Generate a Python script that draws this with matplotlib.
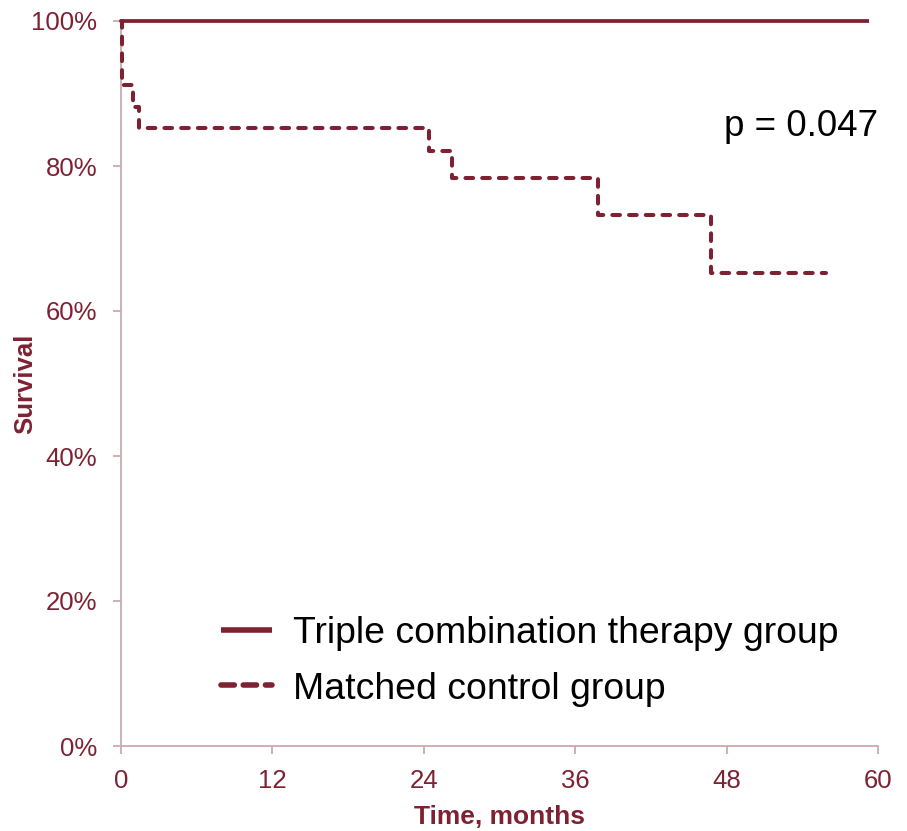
import matplotlib
matplotlib.use("Agg")
import matplotlib.pyplot as plt
from matplotlib.ticker import FuncFormatter

plt.rcParams['font.family'] = ['Liberation Sans', 'DejaVu Sans']

# Kaplan-Meier survival estimates (months, % surviving)
treated_times = [0, 59.3]
treated_surv = [100, 100]
control_times = [0, 0.1, 0.95, 1.4, 24.4, 26.2, 37.8, 46.8, 55.9]
control_surv = [100, 91.2, 88.2, 85.3, 82.1, 78.3, 73.2, 65.2, 65.2]
x_ticks = [0, 12, 24, 36, 48, 60]
y_ticks = [0, 20, 40, 60, 80, 100]
series_labels = ["Triple combination therapy group", "Matched control group"]
p_text = "p = 0.047"

maroon = "#7E2233"
axis_grey = "#C9AAAE"

fig = plt.figure(figsize=(9.07, 8.31), dpi=100)
ax = fig.add_axes([121 / 907, 1 - 746 / 831, 757 / 907, 725 / 831])

ax.plot(treated_times, treated_surv, color=maroon, lw=2.7, solid_capstyle='butt',
        clip_on=False, label=series_labels[0], zorder=3)
ax.plot(control_times, control_surv, color=maroon, lw=2.9, drawstyle='steps-post',
        dashes=(1.9, 2.25), dash_capstyle='round', clip_on=False,
        label=series_labels[1], zorder=3)

ax.set_xlim(0, 60)
ax.set_ylim(0, 100)
ax.set_xticks(x_ticks)
ax.set_yticks(y_ticks)
ax.yaxis.set_major_formatter(FuncFormatter(lambda v, _: f"{v:.0f}%"))

for side in ("top", "right"):
    ax.spines[side].set_visible(False)
for side in ("left", "bottom"):
    ax.spines[side].set_color(axis_grey)
    ax.spines[side].set_linewidth(1.3)

ax.tick_params(axis='both', direction='out', length=6, width=1.3, color=axis_grey,
               labelcolor=maroon, labelsize=18.5)
ax.tick_params(axis='x', pad=10.5)
ax.tick_params(axis='y', pad=11)

ax.set_xlabel("Time, months", fontsize=19, fontweight='bold', color=maroon, labelpad=9)
ax.set_ylabel("Survival", fontsize=18.5, fontweight='bold', color=maroon)
ax.yaxis.set_label_coords(-0.111, 0.5)

ax.text(60, 85.5, p_text, fontsize=26.5, ha='right', va='center', color='black')

leg = ax.legend(loc='center left', bbox_to_anchor=(0.132, 0.1166), frameon=False,
                fontsize=26.9, handlelength=1.38, handletextpad=0.55,
                borderpad=0, borderaxespad=0, labelspacing=0.54)
for line in leg.get_lines():
    line.set_linewidth(4)
leg.get_lines()[1].set_dashes((2.4, 1.6))

fig.savefig("out.png", dpi=100, facecolor='white')
